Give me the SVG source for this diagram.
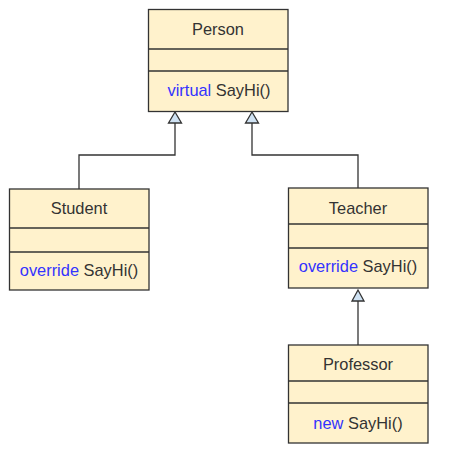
<svg xmlns="http://www.w3.org/2000/svg" width="454" height="451" viewBox="0 0 454 451">
<style>
.box{fill:#fff2cc;stroke:#333333;stroke-width:1.3}
.div{stroke:#333333;stroke-width:1.3}
.t{font-family:"Liberation Sans",Arial,sans-serif;font-size:16.4px;fill:#333333;text-anchor:middle}
.k{fill:#3333ff}
.conn{fill:none;stroke:#333333;stroke-width:1.3}
.arr{fill:#cfe2f3;stroke:#333333;stroke-width:1.3;stroke-linejoin:miter}
</style>
<rect width="454" height="451" fill="#ffffff"/>
<g id="connectors">
<polyline class="conn" points="79,189 79,155 175,155 175,123"/>
<polyline class="conn" points="358,188 358,155 252,155 252,123"/>
<line class="conn" x1="358" y1="345" x2="358" y2="301"/>
<polygon class="arr" points="175,112 168.5,123 181.5,123"/>
<polygon class="arr" points="252,112 245.5,123 258.5,123"/>
<polygon class="arr" points="358,290 352,301 364,301"/>
</g>
<g id="person">
<rect class="box" x="148.5" y="9.5" width="139.5" height="102"/>
<line class="div" x1="148.5" y1="49" x2="288" y2="49"/>
<line class="div" x1="148.5" y1="71" x2="288" y2="71"/>
<text class="t" x="218" y="35">Person</text>
<text class="t" x="219" y="96"><tspan class="k">virtual</tspan> SayHi()</text>
</g>
<g id="student">
<rect class="box" x="9.5" y="189" width="139.5" height="101"/>
<line class="div" x1="9.5" y1="228" x2="149" y2="228"/>
<line class="div" x1="9.5" y1="252" x2="149" y2="252"/>
<text class="t" x="79" y="214">Student</text>
<text class="t" x="79" y="275.5"><tspan class="k">override</tspan> SayHi()</text>
</g>
<g id="teacher">
<rect class="box" x="288.5" y="188" width="139.5" height="100"/>
<line class="div" x1="288.5" y1="224" x2="428" y2="224"/>
<line class="div" x1="288.5" y1="248" x2="428" y2="248"/>
<text class="t" x="358" y="214">Teacher</text>
<text class="t" x="358" y="271.5"><tspan class="k">override</tspan> SayHi()</text>
</g>
<g id="professor">
<rect class="box" x="288.5" y="345" width="139.5" height="98"/>
<line class="div" x1="288.5" y1="381" x2="428" y2="381"/>
<line class="div" x1="288.5" y1="403" x2="428" y2="403"/>
<text class="t" x="358" y="370">Professor</text>
<text class="t" x="358" y="428.5"><tspan class="k">new</tspan> SayHi()</text>
</g>
</svg>
